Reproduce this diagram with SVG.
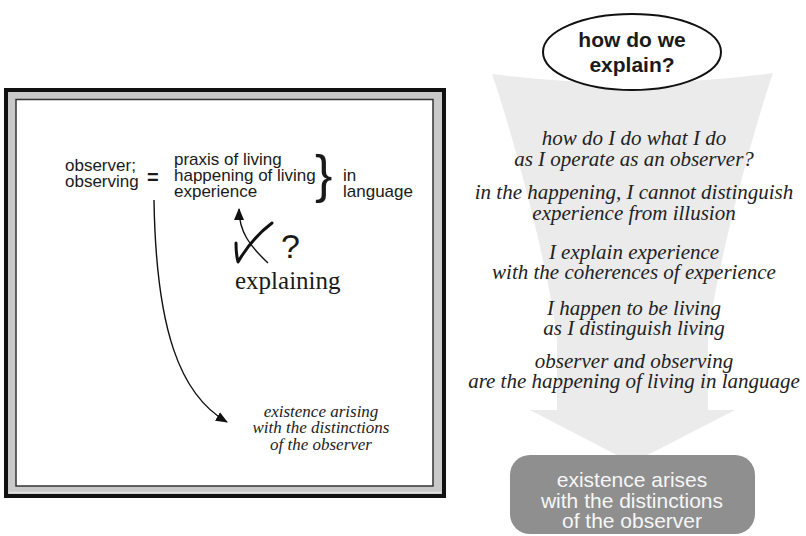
<svg xmlns="http://www.w3.org/2000/svg" width="806" height="536" viewBox="0 0 806 536">
  <defs>
    <style>
      .sans { font-family: "Liberation Sans", Arial, sans-serif; fill: #1a1a1a; }
      .serif { font-family: "Liberation Serif", "Times New Roman", serif; fill: #1a1a1a; }
      .ital { font-family: "Liberation Serif", "Times New Roman", serif; font-style: italic; fill: #222; }
      .step { font-size: 21px; text-anchor: middle; }
      .boxtext { font-family: "Liberation Sans", Arial, sans-serif; font-size: 21px; text-anchor: middle; fill: #f6f6f6; }
      .line { fill: none; stroke: #111; stroke-width: 1.4; }
    </style>
    <marker id="head" viewBox="0 0 12 10" refX="11" refY="5" markerWidth="12" markerHeight="10" markerUnits="userSpaceOnUse" orient="auto">
      <path d="M0,0 L12,5 L0,10 Z" fill="#111"/>
    </marker>
  </defs>

  <rect width="806" height="536" fill="#ffffff"/>

  <!-- framed panel on the left -->
  <g id="panel">
    <rect x="6" y="90" width="438" height="406" fill="#c9c9c9" stroke="#111" stroke-width="4"/>
    <line x1="9" y1="492.5" x2="441" y2="492.5" stroke="#e2e2e2" stroke-width="1.5"/>
    <rect x="16" y="99.5" width="417" height="386.5" fill="#ffffff" stroke="#333" stroke-width="1.5"/>
  </g>

  <g id="observer">
    <text class="sans" font-size="17" x="65" y="171">observer;</text>
    <text class="sans" font-size="17" x="65" y="187">observing</text>
    <text class="sans" font-size="20" font-weight="bold" x="147" y="184">=</text>
  </g>

  <g id="living">
    <text class="sans" font-size="17" x="174" y="165">praxis of living</text>
    <text class="sans" font-size="17" x="174" y="181">happening of living</text>
    <text class="sans" font-size="17" x="174" y="197">experience</text>
    <text class="sans" font-size="52" x="315" y="192">}</text>
  </g>

  <g id="language">
    <text class="sans" font-size="17" x="343" y="181">in</text>
    <text class="sans" font-size="17" x="343" y="197">language</text>
  </g>

  <g id="explaining">
    <path d="M236,243 Q236,254 238,262 Q252,238 272,223" fill="none" stroke="#111" stroke-width="3" stroke-linecap="round" stroke-linejoin="round"/>
    <text class="sans" font-size="34" x="281" y="258">?</text>
    <text class="serif" font-size="25" x="235" y="289">explaining</text>
  </g>

  <g id="existence-arising">
    <text class="ital" font-size="17" text-anchor="middle" x="321" y="417">existence arising</text>
    <text class="ital" font-size="17" text-anchor="middle" x="321" y="433">with the distinctions</text>
    <text class="ital" font-size="17" text-anchor="middle" x="321" y="450">of the observer</text>
  </g>

  <!-- broad funnel arrow on the right -->
  <g id="funnel">
    <path d="M492,74 Q632,92 773,73 C755,125 715,270 708,340 L708,410 L735,410 L632,463 L530,410 L557,410 L557,340 C550,270 510,125 492,74 Z" fill="#ebebec"/>
  </g>

  <g id="question">
    <ellipse cx="632" cy="52" rx="89" ry="38" fill="#ffffff" stroke="#111" stroke-width="2"/>
    <text class="sans" font-size="21" font-weight="bold" text-anchor="middle" x="632" y="47">how do we</text>
    <text class="sans" font-size="21" font-weight="bold" text-anchor="middle" x="632" y="72">explain?</text>
  </g>

  <g id="steps">
    <text class="ital step" x="634" y="145">how do I do what I do</text>
    <text class="ital step" x="634" y="166">as I operate as an observer?</text>
    <text class="ital step" x="634" y="199">in the happening, I cannot distinguish</text>
    <text class="ital step" x="634" y="220">experience from illusion</text>
    <text class="ital step" x="634" y="259">I explain experience</text>
    <text class="ital step" x="634" y="279">with the coherences of experience</text>
    <text class="ital step" x="634" y="315">I happen to be living</text>
    <text class="ital step" x="634" y="335">as I distinguish living</text>
    <text class="ital step" x="634" y="368">observer and observing</text>
    <text class="ital step" x="634" y="388">are the happening of living in language</text>
  </g>

  <g id="existence-arises">
    <rect x="510" y="455" width="245" height="79" rx="20" fill="#8f8f8f"/>
    <text class="boxtext" x="632" y="487">existence arises</text>
    <text class="boxtext" x="632" y="508">with the distinctions</text>
    <text class="boxtext" x="632" y="528">of the observer</text>
  </g>

  <!-- connectors -->
  <g id="connectors">
    <path class="line" d="M154,200 C156,330 180,395 227,422" marker-end="url(#head)"/>
    <path class="line" d="M268,263 C250,246 239,232 239,209" marker-end="url(#head)"/>
  </g>
</svg>
